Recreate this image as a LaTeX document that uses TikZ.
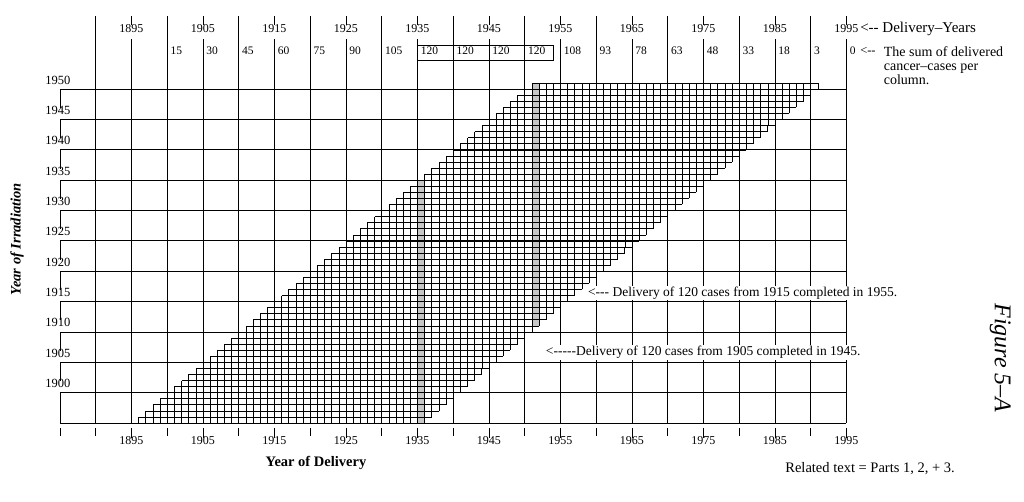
\documentclass[tikz,border=0pt]{standalone}
\usepackage{fontspec}
\setmainfont{Liberation Serif}
\usepackage{tikz}
\usetikzlibrary{positioning}

\begin{document}
\begin{tikzpicture}[x=7.15pt, y=6.07pt,
    majorline/.style={line width=0.9pt},
    cellline/.style={line width=0.65pt},
    shadecol/.style={fill=black!22, draw=none},
    yearlab/.style={font=\fontsize{12}{14}\selectfont, inner sep=0pt},
    sumlab/.style={font=\fontsize{11.5}{14}\selectfont, anchor=west, inner sep=0pt},
    stairnote/.style={font=\fontsize{13.5}{16}\selectfont, fill=white, inner sep=1pt, anchor=west},
    axislab/.style={font=\fontsize{14.5}{17}\selectfont\bfseries}
  ]
  \useasboundingbox (-8.39,-13.01) rectangle (134.83,69.69);

  % Shaded delivery columns (1935 and 1951)
  \fill[shadecol] (50,0) rectangle (51,40);
  \fill[shadecol] (66,16) rectangle (67,56);

  % Staircase: one row of 40 yearly cells per irradiation year
  \foreach \i in {0,...,55}
    \draw[cellline, step=1] (\i+11,\i) grid (\i+51,\i+1);

  % Major 5-year grid
  \foreach \y in {0,5,...,55}
    \draw[majorline] (0,\y) -- (110,\y);
  \foreach \x in {5,15,...,105}
    \draw[majorline] (\x,67.05) -- (\x,0);
  \foreach \x in {10,20,...,110} {
    \draw[majorline] (\x,67.05) -- (\x,65.6);
    \draw[majorline] (\x,63.3) -- (\x,0);
  }

  % Left border, broken by the labels
  \foreach \y in {10,15,...,55}
    \draw[majorline] (0,\y) -- (0,\y-3.1);
  \draw[majorline] (0,5) -- (0,0);

  % Delivery years (top)
  \foreach \x [evaluate=\x as \yr using int(1885+\x)] in {10,20,...,110}
    \node[yearlab] (top\yr) at (\x,64.9) {\yr};

  % Sums per column
  \foreach \x/\n in {15/15, 20/30, 25/45, 30/60, 35/75, 40/90, 45/105,
      50/120, 55/120, 60/120, 65/120, 70/108, 75/93, 80/78, 85/63,
      90/48, 95/33, 100/18, 105/3, 110/0}
    \node[sumlab] (sum\x) at (\x+0.45,61.3) {\n};
  \draw[majorline] (50,59.8) rectangle (69,62.27);

  % Right-hand captions
  \node[font=\fontsize{15}{17}\selectfont, anchor=west, inner sep=0pt] (yearsnote) at (111.9,64.9) {<-{}- Delivery--Years};
  \node[font=\fontsize{12.5}{15}\selectfont, anchor=west, inner sep=0pt] (sumarrow) at (111.9,61.3) {<-{}-};
  \node[font=\fontsize{14}{14}\selectfont, align=left, anchor=north west, inner sep=0pt] (sumnote) at (115.2,62.1) {The sum of delivered\\cancer--cases per\\column.};

  % Irradiation years (left)
  \foreach \y [evaluate=\y as \yr using int(1895+\y)] in {5,10,...,55}
    \node[font=\fontsize{12.5}{15}\selectfont, inner sep=0pt] (irr\yr) at (-0.3,\y+1.5) {\yr};

  % Delivery years (bottom)
  \foreach \x in {0,5,...,110}
    \draw[majorline] (\x,-0.82) -- (\x,-2.14);
  \foreach \x [evaluate=\x as \yr using int(1885+\x)] in {10,20,...,110} {
    \node[yearlab] (bot\yr) at (\x,-2.97) {\yr};
    \draw[majorline] (\x,-0.82) -- (\x,-2.4);
  }

  % Axis titles
  \node[axislab] (xtitle) at (35.8,-6.59) {Year of Delivery};
  \node[axislab, rotate=90] (ytitle) at (-6.01,30.3) {\itshape Year of Irradiation};

  % Notes on the staircase
  \node[stairnote] (note1955) at (73.7,21.4) {<-{}-{}- Delivery of 120 cases from 1915 completed in 1955.};
  \node[stairnote] (note1945) at (67.8,11.6) {<-{}-{}-{}-{}-Delivery of 120 cases from 1905 completed in 1945.};

  % Figure caption
  \node[font=\fontsize{24}{28}\selectfont\itshape, rotate=-90] (figlab) at (131.5,10.7) {Figure 5--A};
  \node[font=\fontsize{14.5}{17}\selectfont] (related) at (113.3,-7.58) {Related text = Parts 1, 2, + 3.};
\end{tikzpicture}
\end{document}
